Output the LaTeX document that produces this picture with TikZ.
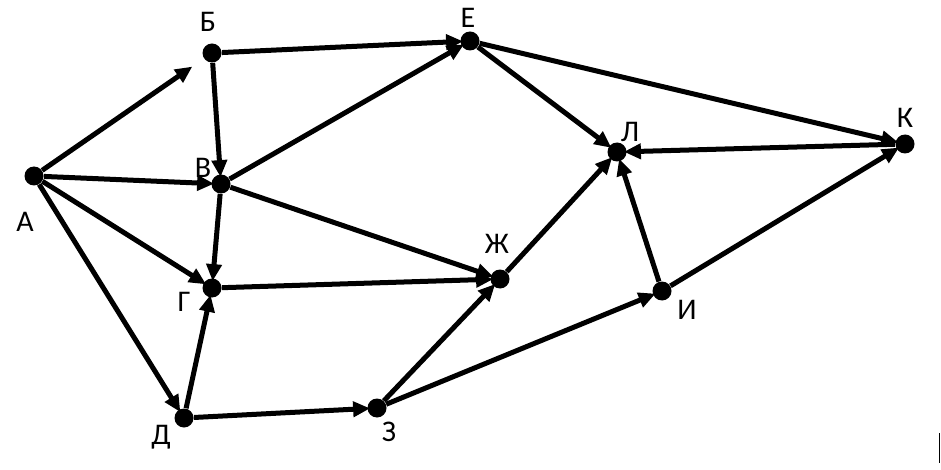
\documentclass[tikz,border=0pt]{standalone}
\usepackage{fontspec}
\setmainfont{Carlito}
\usetikzlibrary{arrows.meta}

\begin{document}
\begin{tikzpicture}[x=0.5pt,y=-0.5pt,
  vertex/.style={circle,fill=black,inner sep=0pt,minimum size=9.5pt},
  lbl/.style={font=\fontsize{15}{17}\selectfont,inner sep=0pt},
  edge/.style={line width=2.5pt,shorten >=-1.5pt,-{Triangle[length=8.5pt,width=7.5pt]}}]

\useasboundingbox (0,0) rectangle (941,470);

% Define vertices
\node[vertex] (A) at (34,176) {};
\node[vertex] (B) at (212,53) {};
\node[vertex] (V) at (221,184) {};
\node[vertex] (G) at (212,288) {};
\node[vertex] (D) at (184,418) {};
\node[vertex] (E) at (470,41) {};
\node[vertex] (Zh) at (500,279) {};
\node[vertex] (Z) at (377,408) {};
\node[vertex] (L) at (617,152) {};
\node[vertex] (I) at (662,291) {};
\node[vertex] (K) at (905,144) {};

% Vertex labels
\node[lbl] (tA) at (25,222) {А};
\node[lbl] (tB) at (208,22) {Б};
\node[lbl] (tV) at (203,168) {В};
\node[lbl] (tG) at (184,302) {Г};
\node[lbl] (tD) at (161,437) {Д};
\node[lbl] (tE) at (468,18) {Е};
\node[lbl] (tZh) at (497,244) {Ж};
\node[lbl] (tZ) at (389,432) {З};
\node[lbl] (tL) at (630,132) {Л};
\node[lbl] (tI) at (687,310) {И};
\node[lbl] (tK) at (905,118) {К};

% Arcs
\draw[edge,shorten >=7pt] (A) -- (B);
\draw[edge] (A) -- (V);
\draw[edge] (A) -- (G);
\draw[edge] (A) -- (D);
\draw[edge] (B) -- (E);
\draw[edge] (B) -- (V);
\draw[edge] (V) -- (E);
\draw[edge] (V) -- (G);
\draw[edge] (V) -- (Zh);
\draw[edge] (G) -- (Zh);
\draw[edge] (D) -- (G);
\draw[edge] (D) -- (Z);
\draw[edge] (Z) -- (Zh);
\draw[edge] (Z) -- (I);
\draw[edge] (Zh) -- (L);
\draw[edge] (E) -- (L);
\draw[edge] (E) -- (K);
\draw[edge] (K) -- (L);
\draw[edge] (I) -- (L);
\draw[edge] (I) -- (K);

% Edge mark at the right border
\draw[line width=0.5pt] (939,433) -- (939,463);

\end{tikzpicture}
\end{document}
